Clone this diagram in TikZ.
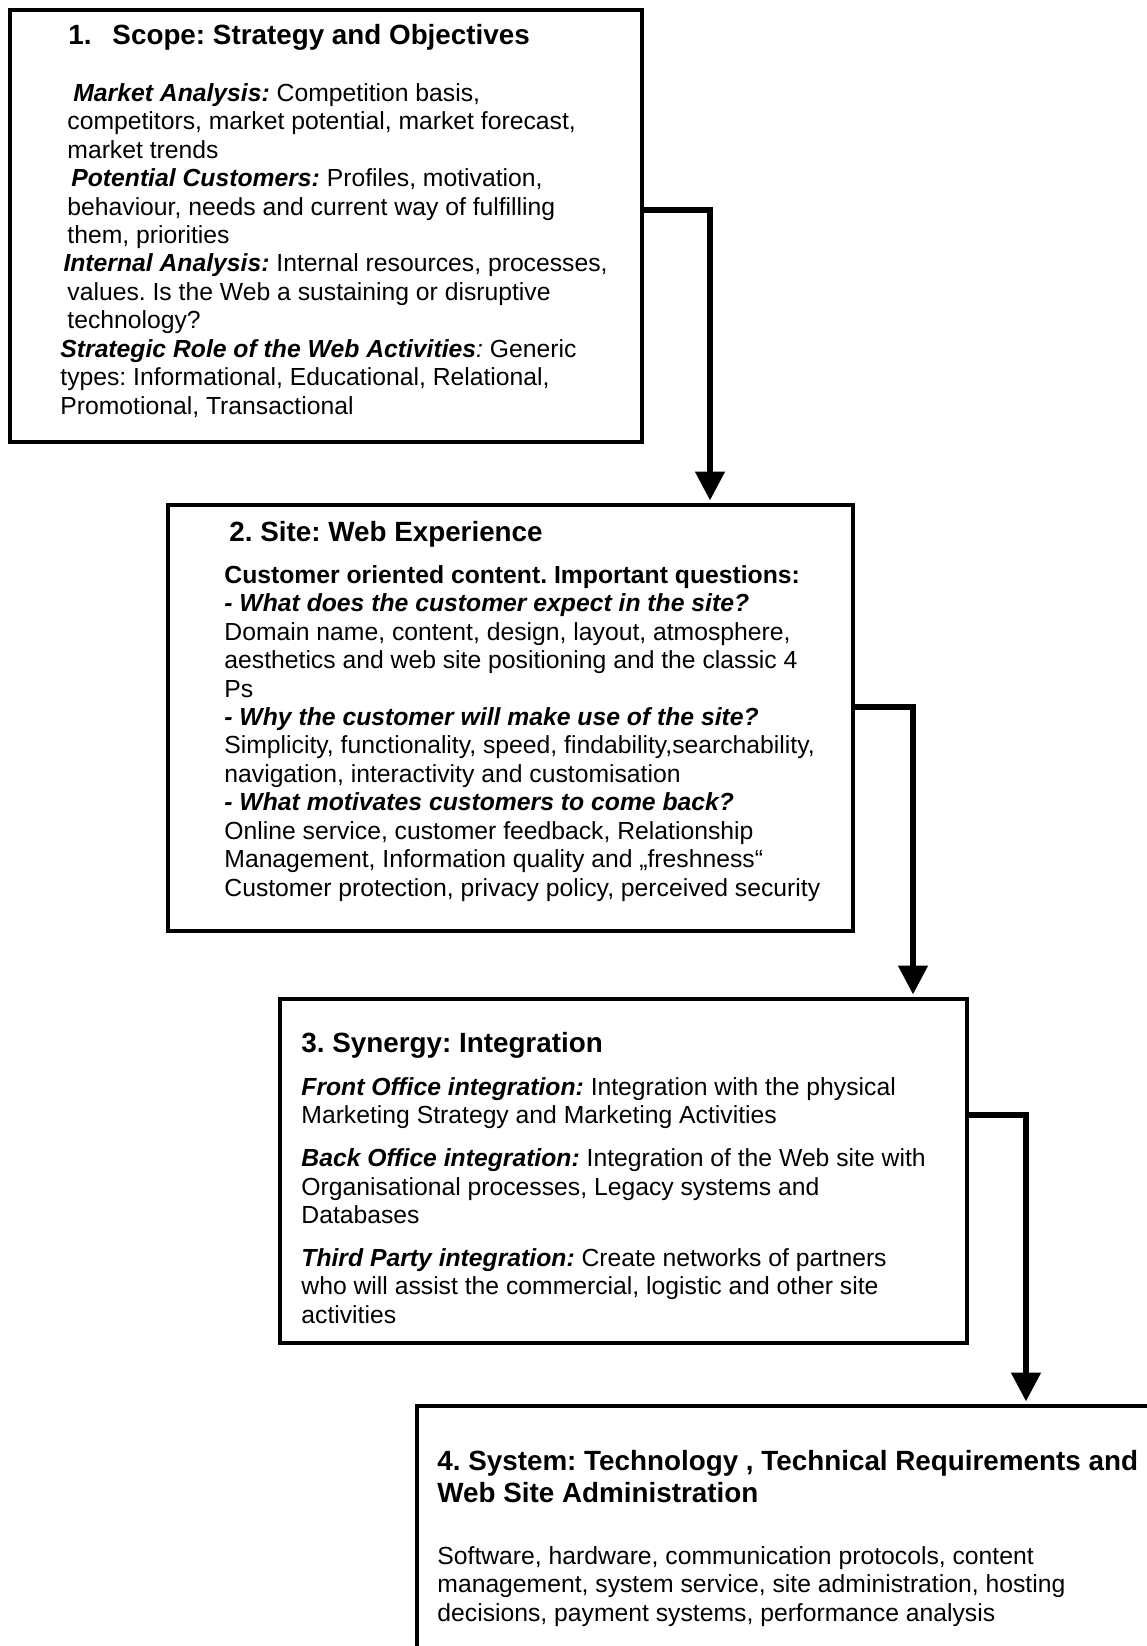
\documentclass[tikz,border=0pt]{standalone}
\usepackage{fontspec}
\setmainfont{Liberation Sans}
\usetikzlibrary{arrows.meta,fit}
\frenchspacing

\newcommand{\bi}[1]{\textbf{\textit{#1}}}

\begin{document}
\begin{tikzpicture}[x=0.4854pt,y=-0.4854pt,
  box/.style={draw,line width=1.5pt,inner sep=0pt},
  head/.style={inner sep=0pt,align=left,font=\fontsize{13.5}{15.5}\selectfont\bfseries},
  body/.style={anchor=north west,inner sep=0pt,align=left,font=\fontsize{12}{13.8}\selectfont,execute at begin node=\strut},
  flow/.style={line width=2.6pt,-{Triangle[length=14pt,width=14pt]},shorten >=1.5pt}]
% four stages of the web site
\useasboundingbox (0,0) rectangle (1147,1646);
\clip (0,0) rectangle (1147,1646);

\node[box,fit={(10,10) (642,442)}] (scope) {};
\node[head,anchor=base west] (scopeT) at (68,44) {\makebox[21.4pt][l]{1.}Scope: Strategy and Objectives};
\node[body] (scopeB) at (60,83) {\hspace*{6.3pt}\bi{Market Analysis:} Competition basis,\\
\hspace*{3.4pt}competitors, market potential, market forecast,\\
\hspace*{3.4pt}market trends\\
\hspace*{5.3pt}\bi{Potential Customers:} Profiles, motivation,\\
\hspace*{3.4pt}behaviour, needs and current way of fulfilling\\
\hspace*{3.4pt}them, priorities\\
\hspace*{1.5pt}\bi{Internal Analysis:} Internal resources, processes,\\
\hspace*{3.4pt}values. Is the Web a sustaining or disruptive\\
\hspace*{3.4pt}technology?\\
\bi{Strategic Role of the Web Activities}\textit{:} Generic\\
types: Informational, Educational, Relational,\\
Promotional, Transactional};

\node[box,fit={(168,505) (853,931)}] (site) {};
\node[head,anchor=base west] (siteT) at (229,541) {2. Site: Web Experience};
\node[body] (siteB) at (224,565) {\textbf{Customer oriented content. Important questions:}\\
\bi{- What does the customer expect in the site?}\\
Domain name, content, design, layout, atmosphere,\\
aesthetics and web site positioning and the classic 4\\
Ps\\
\bi{- Why the customer will make use of the site?}\\
Simplicity, functionality, speed, findability,searchability,\\
navigation, interactivity and customisation\\
\bi{- What motivates customers to come back?}\\
Online service, customer feedback, Relationship\\
Management, Information quality and „freshness“\\
Customer protection, privacy policy, perceived security};

\node[box,fit={(280,999) (967,1343)}] (synergy) {};
\node[head,anchor=base west] (synergyT) at (301,1052) {3. Synergy: Integration};
\node[body] (synergyB) at (301,1077) {\bi{Front Office integration:} Integration with the physical\\
Marketing Strategy and Marketing Activities\\[7pt]
\bi{Back Office integration:} Integration of the Web site with\\
Organisational processes, Legacy systems and\\
Databases\\[7pt]
\bi{Third Party integration:} Create networks of partners\\
who will assist the commercial, logistic and other site\\
activities};

\node[box,fit={(417,1406) (1200,1720)}] (system) {};
\node[head,anchor=north west,execute at begin node=\strut] (systemT) at (437,1450) {4. System: Technology , Technical Requirements and\\
Web Site Administration};
\node[body] (systemB) at (437,1546) {Software, hardware, communication protocols, content\\
management, system service, site administration, hosting\\
decisions, payment systems, performance analysis};

\coordinate (k1) at (710,210);
\coordinate (k2) at (913,707);
\coordinate (k3) at (1026,1115);
\draw[flow] (scope.east |- k1) -| (site.north -| k1);
\draw[flow] (site.east |- k2) -| (synergy.north -| k2);
\draw[flow] (synergy.east |- k3) -| (system.north -| k3);

\end{tikzpicture}
\end{document}
